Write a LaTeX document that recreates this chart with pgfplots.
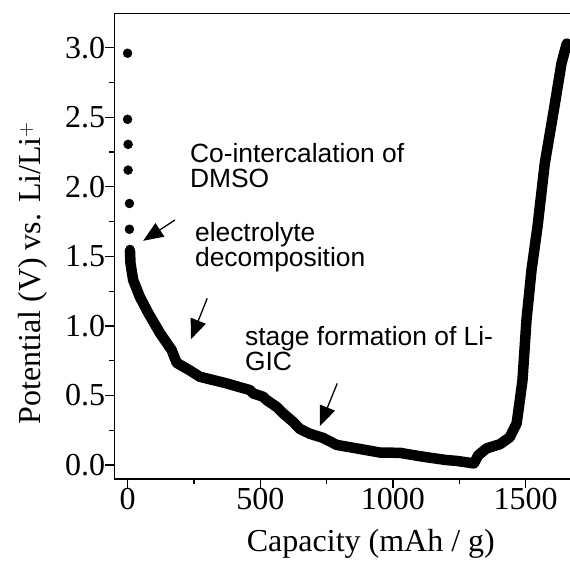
\documentclass[border=0pt]{standalone}
\usepackage{fontspec}
\setmainfont{Liberation Serif}
\newfontfamily\arial{Liberation Sans}
\usepackage{pgfplots}
\pgfplotsset{compat=1.18}
\usetikzlibrary{arrows.meta}

\begin{document}
\begin{tikzpicture}
\begin{axis}[
    scale only axis,
    width=455.7pt,
    height=465.7pt,
    xmin=-50, xmax=1667,
    ymin=-0.1, ymax=3.247,
    axis x line*=bottom,
    axis y line*=left,
    axis line style={-, line width=1.3pt},
    tick align=outside,
    major tick length=9pt,
    minor tick length=5pt,
    every tick/.style={line width=1.3pt, black},
    xtick={0,500,1000,1500},
    ytick={0,0.5,...,3},
    minor x tick num=1,
    minor y tick num=1,
    /pgf/number format/assume math mode=true,
    /pgf/number format/1000 sep={},
    yticklabel style={/pgf/number format/fixed, /pgf/number format/precision=1,
        /pgf/number format/fixed zerofill},
    ticklabel style={font=\fontsize{32}{36}\selectfont, inner sep=0pt},
    clip=false,
]
% voltage points at the start
\addplot[only marks, mark=*, mark size=4.5pt, black] coordinates {
    (0,2.96) (0,2.485) (2,2.305) (2,2.12) (7,1.88) (7,1.695) (9,1.55)
};
% discharge/charge curve
\addplot[line width=10.5pt, black, line join=round, line cap=round] coordinates {
    (9,1.54) (11,1.45) (21,1.33) (46,1.21) (78,1.093) (122,0.949) (166,0.827)
    (185,0.735) (235,0.68) (272,0.635) (373,0.587) (461,0.539) (473,0.515)
    (511,0.491) (524,0.467) (561,0.419) (586,0.372) (624,0.31) (649,0.26)
    (687,0.225) (737,0.195) (788,0.145) (863,0.12) (951,0.09) (1026,0.088)
    (1076,0.072) (1114,0.06) (1202,0.036) (1240,0.03) (1305,0.012) (1321,0.07)
    (1353,0.12) (1403,0.15) (1440,0.2) (1466,0.3) (1478,0.467) (1488,0.611)
    (1503,1.042) (1522,1.402) (1545,1.72) (1572,2.169) (1604,2.528)
    (1635,2.888) (1655,3.03)
};
\draw[line width=1.3pt] (rel axis cs:0,1) -- (rel axis cs:1,1);

\tikzset{ann/.style={anchor=north west, inner sep=0pt, align=left,
    font=\arial\fontsize{26.4}{25.5}\selectfont}}
\node[ann] at (axis cs:234.7,2.315) {Co-intercalation of\\DMSO};
\node[ann] at (axis cs:253.6,1.749) {electrolyte\\decomposition};
\node[ann] at (axis cs:442,1.0015) {stage formation of Li-\\GIC};

\tikzset{arr/.style={line width=1.3pt, -{Triangle[length=20pt,width=16pt]}}}
\draw[arr] (axis cs:178.2,1.761) -- (axis cs:58.8,1.612);
\draw[arr] (axis cs:300,1.198) -- (axis cs:238.5,0.904);
\draw[arr] (axis cs:790,0.587) -- (axis cs:724.6,0.280);
\end{axis}

\node[anchor=base west, inner sep=0pt, font=\fontsize{32}{36}\selectfont]
    at (132.4pt,-72.7pt) {Capacity (mAh / g)};
\node[anchor=base, rotate=90, inner sep=0pt, font=\fontsize{32}{36}\selectfont]
    at (-73.3pt,206pt) {Potential (V) vs. Li/Li$^{+}$};

\pgfresetboundingbox
\path[use as bounding box] (-114.3pt,-82pt) rectangle (455.7pt,479pt);
\end{tikzpicture}
\end{document}
